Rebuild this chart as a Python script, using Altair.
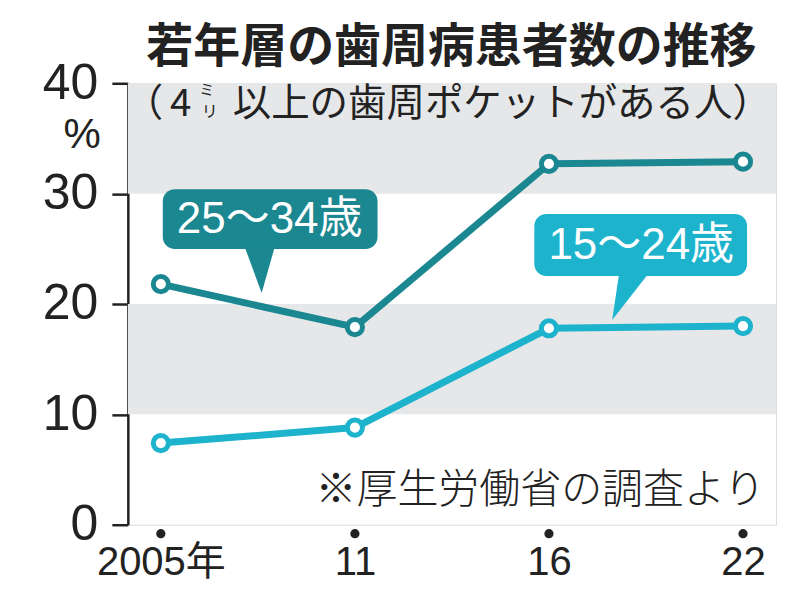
import altair as alt
import pandas as pd

# ---- data ----
years = ["2005年", "11", "16", "22"]
age_25_34 = [21.8, 17.9, 32.7, 32.9]
age_15_24 = [7.4, 8.8, 17.8, 18.0]
series_names = ["25〜34歳", "15〜24歳"]
band_lo = [10, 30]
band_hi = [20, 40]
y_ticks = [0, 10, 20, 30, 40]

title_text = "若年層の歯周病患者数の推移"
sub_open = "（"
sub_num = "4"
sub_mi = "ミ"
sub_ri = "リ"
sub_rest = "以上の歯周ポケットがある人）"
unit_text = "%"
source_text = "※厚生労働省の調査より"

# ---- styling ----
DARK = "#1a8791"
LIGHT = "#1db3cd"
BAND = "#e6e7e9"
W, H = 649, 442
CJK = "Noto Sans CJK JP"
NUM = "Liberation Sans"
NARROW = "Liberation Sans, Noto Sans CJK JP"

rows = []
for name, vals in zip(series_names, [age_25_34, age_15_24]):
    for yr, v in zip(years, vals):
        rows.append({"year": yr, "value": v, "series": name})
df = pd.DataFrame(rows)

x_enc = alt.X(
    "year:N", sort=years, title=None,
    scale=alt.Scale(type="point", padding=0.17),
    axis=alt.Axis(domain=False, ticks=False, labelAngle=0, labelFont=NARROW,
                  labelFontSize=40, labelColor="#222", labelPadding=18,
                  labelBaseline="top"),
)
y_scale = alt.Scale(domain=[0, 40], nice=False)
y_axis = alt.Axis(values=y_ticks, grid=False, domainColor="#222", domainWidth=2.5,
                  tickColor="#222", tickWidth=2.5, tickSize=16, labelPadding=14,
                  labelFont=NUM, labelFontSize=50, labelColor="#222")
color_scale = alt.Scale(domain=series_names, range=[DARK, LIGHT])

bands_df = pd.DataFrame({"lo": band_lo, "hi": band_hi})
bands = alt.Chart(bands_df).mark_rect(color=BAND).encode(
    y=alt.Y("lo:Q", scale=y_scale, axis=y_axis, title=None),
    y2="hi:Q",
    x=alt.value(0), x2=alt.value(W),
)

lines = alt.Chart(df).mark_line(strokeWidth=7, strokeJoin="round").encode(
    x=x_enc,
    y=alt.Y("value:Q", scale=y_scale, axis=y_axis, title=None),
    color=alt.Color("series:N", scale=color_scale, legend=None),
    detail="series:N",
)
pts = alt.Chart(df).mark_circle(fill="white", size=230, strokeWidth=5, opacity=1).encode(
    x=x_enc,
    y=alt.Y("value:Q", scale=y_scale, axis=y_axis, title=None),
    stroke=alt.Stroke("series:N", scale=color_scale, legend=None),
)

dots = alt.Chart(pd.DataFrame({"year": years})).mark_circle(
    color="#222", size=85, opacity=1
).encode(x=x_enc, y=alt.value(H + 9))

one = pd.DataFrame({"a": [0]})


def txt(t, x, y, size, font=CJK, weight="normal", align="center",
        baseline="middle", color="#222"):
    return alt.Chart(pd.DataFrame({"t": [t]})).mark_text(
        font=font, fontSize=size, fontWeight=weight, align=align,
        baseline=baseline, color=color,
    ).encode(text="t:N", x=alt.value(x), y=alt.value(y))


def box(x1, x2, y1, y2, c):
    return alt.Chart(one).mark_rect(cornerRadius=12, color=c, opacity=1).encode(
        x=alt.value(x1), x2=alt.value(x2), y=alt.value(y1), y2=alt.value(y2)
    )


def pointer(cx, cy, shape, c):
    return alt.Chart(one).mark_point(
        shape=shape, size=1936, filled=True, color=c, opacity=1, strokeWidth=0
    ).encode(x=alt.value(cx), y=alt.value(cy))


callouts = [
    box(35, 250, 106, 166, DARK),
    pointer(132, 188, "M -0.7 -1.15 L 0.7 -1.15 L 0.09 1 Z", DARK),
    txt(series_names[0], 142, 137, 44, font=NARROW, color="white"),
    box(407, 620, 131, 193, LIGHT),
    pointer(503, 215, "M -0.5 -1.15 L 0.86 -1.15 L -0.82 1 Z", LIGHT),
    txt(series_names[1], 514, 163, 44, font=NARROW, color="white"),
]

texts = [
    txt(title_text, 324, -35, 47, weight="bold"),
    txt(sub_open, -3, 21, 38.5, align="left"),
    txt(sub_num, 53, 21, 38.5),
    txt(sub_mi, 79, 7, 15),
    txt(sub_ri, 82, 29, 16),
    txt(sub_rest, 105, 21, 38.5, align="left"),
    txt(unit_text, -27, 52, 42, font=NUM, align="right"),
    txt(source_text, 638, 408, 41, weight=300, align="right"),
]

chart = alt.layer(bands, lines, pts, dots, *callouts, *texts).properties(
    width=W, height=H,
    autosize=alt.AutoSizeParams(type="none"),
    padding={"left": 120, "top": 75, "right": 16, "bottom": 80},
).configure_view(stroke=None).configure(background="white")

chart.save("out.html", embed_options={"renderer": "svg", "actions": False})
